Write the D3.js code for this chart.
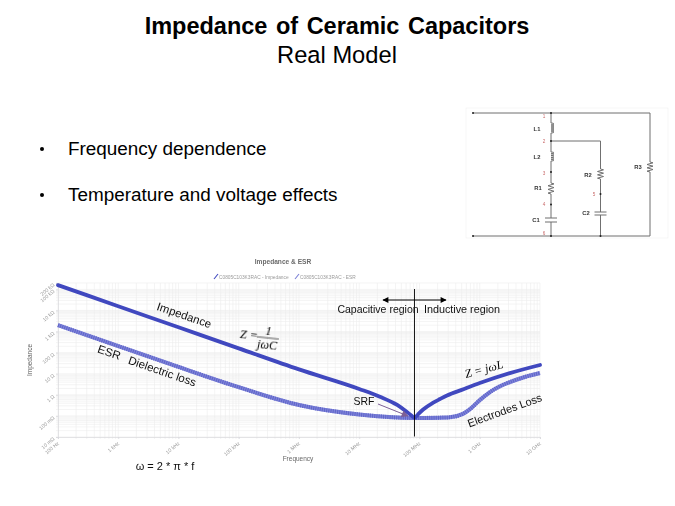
<!DOCTYPE html>
<html lang="en">
  <head>
    <meta charset="utf-8">
    <title>Impedance of Ceramic Capacitors</title>
    <script src="https://cdnjs.cloudflare.com/ajax/libs/d3/7.8.5/d3.min.js"></script>
    <style>
      html, body { margin: 0; padding: 0; background: #fff; }
      svg { display: block; }
      text { font-family: "Liberation Sans", Arial, sans-serif; }
      text.math { font-family: "Liberation Serif", serif; font-style: italic; }
    </style>
  </head>
  <body>
    <script>
      //Chart values
      var impedanceFreq = [100, 1e3, 1e4, 1e5, 1e6, 1e7, 2.2e7, 4.26e7, 6.2e7, 7.5e7, 8.26e7, 9.4e7, 1.15e8, 1.66e8, 2.19e8, 2.86e8, 5.5e8, 1e9, 3.16e9, 1e10];
      var impedanceOhm = [159000, 15900, 1590, 159, 16, 1.9, 0.81, 0.33, 0.153, 0.099, 0.08, 0.116, 0.2, 0.41, 0.63, 0.93, 1.88, 3.6, 10.7, 26];

      var esrFreq = [100, 1e3, 1e4, 1e5, 1e6, 1e7, 8.26e7, 3e8, 5.25e8, 6.9e8, 1e9, 1.48e9, 2.2e9, 3.16e9, 5.6e9, 1e10];
      var esrOhm = [2000, 205, 21, 2.3, 0.33, 0.117, 0.08, 0.085, 0.125, 0.21, 0.56, 1.35, 2.6, 4, 7, 10.8];

      var xTickValues = [100, 1e3, 1e4, 1e5, 1e6, 1e7, 1e8, 1e9, 1e10];
      var xTickLabels = ["100 Hz", "1 kHz", "10 kHz", "100 kHz", "1 MHz", "10 MHz", "100 MHz", "1 GHz", "10 GHz"];
      var yTickValues = [0.01, 0.1, 1, 10, 100, 1e3, 1e4, 1e5, 2e5];
      var yTickLabels = ["10 mΩ", "100 mΩ", "1 Ω", "10 Ω", "100 Ω", "1 kΩ", "10 kΩ", "100 kΩ", "200 kΩ"];
      var seriesNames = ["C0805C103K3RAC - Impedance", "C0805C103K3RAC - ESR"];

      var bullets = ["Frequency dependence", "Temperature and voltage effects"];

      var w = 675, h = 506;
      var svg = d3.select("body").append("svg").attr("width", w).attr("height", h);

      var defs = svg.append("defs");
      defs.append("filter").attr("id", "soft").append("feGaussianBlur").attr("stdDeviation", 0.25);
      defs.append("filter").attr("id", "softer").append("feGaussianBlur").attr("stdDeviation", 0.4);
      defs.append("marker").attr("id", "head").attr("viewBox", "0 0 10 10").attr("refX", 9).attr("refY", 5)
        .attr("markerWidth", 8).attr("markerHeight", 6).attr("markerUnits", "userSpaceOnUse").attr("orient", "auto-start-reverse")
        .append("path").attr("d", "M0,0L10,5L0,10Z").attr("fill", "#000");
      defs.append("marker").attr("id", "srfHead").attr("viewBox", "0 0 10 10").attr("refX", 9).attr("refY", 5)
        .attr("markerWidth", 9).attr("markerHeight", 7).attr("markerUnits", "userSpaceOnUse").attr("orient", "auto")
        .append("path").attr("d", "M0,0L10,5L0,10Z").attr("fill", "#7d5f96");

      //Slide title
      svg.append("text").attr("x", 337).attr("y", 34).attr("text-anchor", "middle")
        .attr("font-size", 23.5).attr("font-weight", "bold").attr("word-spacing", 2).text("Impedance of Ceramic Capacitors");
      svg.append("text").attr("x", 337).attr("y", 63).attr("text-anchor", "middle")
        .attr("font-size", 23.7).text("Real Model");

      //Bullets
      var bulletY = d3.scalePoint().domain(bullets).range([155, 201]);
      bullets.forEach(function(b) {
        svg.append("circle").attr("cx", 42).attr("cy", bulletY(b) - 6).attr("r", 2).attr("fill", "#000");
        svg.append("text").attr("x", 68).attr("y", bulletY(b)).attr("font-size", 18.9).text(b);
      });

      //Chart
      var plotLeft = 58, plotRight = 540, plotTop = 283, plotBottom = 437;
      var xScale = d3.scaleLog().domain([100, 1e10]).range([plotLeft, plotRight]);
      var yScale = d3.scaleLog().domain([0.01, 2e5]).range([plotBottom, plotTop]);

      var chart = svg.append("g");
      var grid = chart.append("g").attr("filter", "url(#soft)");

      grid.selectAll(".vminor").data(xScale.ticks()).enter().append("line")
        .attr("x1", function(d) { return xScale(d); }).attr("x2", function(d) { return xScale(d); })
        .attr("y1", plotTop).attr("y2", plotBottom + 2)
        .attr("stroke", "#ededed").attr("stroke-width", 0.6);
      grid.selectAll(".hminor").data(yScale.ticks()).enter().append("line")
        .attr("x1", plotLeft - 2).attr("x2", plotRight)
        .attr("y1", function(d) { return yScale(d); }).attr("y2", function(d) { return yScale(d); })
        .attr("stroke", "#ededed").attr("stroke-width", 0.6);

      var xAxis = d3.axisBottom(xScale).tickValues(xTickValues)
        .tickFormat(function(d, i) { return xTickLabels[i]; }).tickSize(2);
      var yAxis = d3.axisLeft(yScale).tickValues(yTickValues)
        .tickFormat(function(d, i) { return yTickLabels[i]; }).tickSize(2);

      var xG = chart.append("g").attr("transform", "translate(0," + plotBottom + ")").attr("filter", "url(#soft)").call(xAxis);
      var yG = chart.append("g").attr("transform", "translate(" + plotLeft + ",0)").attr("filter", "url(#soft)").call(yAxis);
      xG.selectAll(".domain, .tick line").attr("stroke", "#d8d8dc").attr("stroke-width", 0.7);
      yG.selectAll(".domain, .tick line").attr("stroke", "#d8d8dc").attr("stroke-width", 0.7);

      xG.selectAll("text").attr("font-size", 5.2).attr("fill", "#999")
        .attr("text-anchor", "end").attr("dy", null).attr("y", 0)
        .attr("transform", "translate(1,7) rotate(-40)");
      yG.selectAll("text").attr("font-size", 5.2).attr("fill", "#999")
        .attr("text-anchor", "end").attr("dy", null).attr("x", 0)
        .attr("transform", "translate(-3,2) rotate(-40)");

      chart.append("text").attr("x", 283).attr("y", 264).attr("text-anchor", "middle")
        .attr("font-size", 6.6).attr("font-weight", "bold").attr("fill", "#6b6b6b").attr("filter", "url(#soft)").text("Impedance & ESR");

      var legendX = d3.scaleOrdinal().domain(seriesNames).range([219, 300]);
      var seriesColors = d3.scaleOrdinal().domain(seriesNames).range(["#3f47bf", "#7a7fd6"]);
      seriesNames.forEach(function(name) {
        chart.append("path").attr("d", "M" + (legendX(name) - 5) + ",279L" + (legendX(name) - 1) + ",274")
          .attr("stroke", seriesColors(name)).attr("stroke-width", 1.1).attr("fill", "none");
        chart.append("text").attr("x", legendX(name)).attr("y", 278.5).attr("font-size", 4.8)
          .attr("fill", "#9a9a9a").attr("filter", "url(#soft)").text(name);
      });

      chart.append("text").attr("transform", "translate(32,360) rotate(-90)").attr("text-anchor", "middle")
        .attr("font-size", 6.5).attr("fill", "#666").attr("filter", "url(#soft)").text("Impedance");
      chart.append("text").attr("x", 298).attr("y", 461).attr("text-anchor", "middle")
        .attr("font-size", 6.5).attr("fill", "#666").attr("filter", "url(#soft)").text("Frequency");

      var line = d3.line()
        .x(function(d) { return xScale(d[0]); })
        .y(function(d) { return yScale(d[1]); })
        .curve(d3.curveMonotoneX);

      chart.append("path").datum(d3.zip(esrFreq, esrOhm)).attr("d", line)
        .attr("fill", "none").attr("stroke", "#7f84d9").attr("stroke-width", 4);
      chart.append("path").datum(d3.zip(esrFreq, esrOhm)).attr("d", line)
        .attr("fill", "none").attr("stroke", "#5f65c9").attr("stroke-width", 4).attr("stroke-dasharray", "1 1.2");
      chart.append("path").datum(d3.zip(impedanceFreq, impedanceOhm)).attr("d", line)
        .attr("fill", "none").attr("stroke", "#4048bf").attr("stroke-width", 3.8).attr("stroke-linecap", "round");

      //Annotations on top of the chart
      var notes = svg.append("g").attr("filter", "url(#soft)");
      var vLineX = 414.5;
      notes.append("line").attr("x1", vLineX).attr("x2", vLineX).attr("y1", 289).attr("y2", 436.5).attr("stroke", "#000").attr("stroke-width", 0.9);
      notes.append("line").attr("x1", 383).attr("x2", 446).attr("y1", 300).attr("y2", 300).attr("stroke", "#000").attr("stroke-width", 1)
        .attr("marker-start", "url(#head)").attr("marker-end", "url(#head)");
      notes.append("line").attr("x1", 378).attr("y1", 404).attr("x2", 408).attr("y2", 416).attr("stroke", "#7d5f96").attr("stroke-width", 1)
        .attr("marker-end", "url(#srfHead)");

      function note(txt, x, y, size, angle) {
        notes.append("text").attr("transform", "translate(" + x + "," + y + ") rotate(" + angle + ")")
          .attr("text-anchor", "middle").attr("font-size", size).attr("fill", "#111").text(txt);
      }
      note("Impedance", 183, 319, 11.5, 19);
      note("ESR", 108, 356, 11.5, 19);
      note("Dielectric loss", 161, 375, 11.5, 19);
      note("Capacitive region", 378, 313, 10.5, 0);
      note("Inductive region", 462, 313, 10.8, 0);
      note("SRF", 364, 405, 10.5, 0);
      note("Electrodes Loss", 506, 414, 11, -20);
      note("ω = 2 * π * f", 165, 470, 11, 0);

      //Formulas
      var zc = notes.append("g").attr("transform", "translate(240,335) rotate(6)");
      zc.append("text").attr("class", "math").attr("font-size", 12).attr("y", 3).text("Z =");
      zc.append("text").attr("class", "math").attr("font-size", 12).attr("x", 28).attr("y", -3).attr("text-anchor", "middle").text("1");
      zc.append("line").attr("x1", 17).attr("x2", 39).attr("y1", 0).attr("y2", 0).attr("stroke", "#111").attr("stroke-width", 0.7);
      zc.append("text").attr("class", "math").attr("font-size", 12).attr("x", 28).attr("y", 11).attr("text-anchor", "middle").text("jωC");
      notes.append("text").attr("class", "math").attr("font-size", 12)
        .attr("transform", "translate(466,378) rotate(-15)").text("Z = jωL");

      //Equivalent circuit
      var cx = 551, branchX = 600.5, r3X = 650, railTop = 113, railBottom = 236;
      var circuit = svg.append("g").attr("filter", "url(#softer)");
      circuit.append("rect").attr("x", 466).attr("y", 108).attr("width", 202).attr("height", 130).attr("fill", "none").attr("stroke", "#f0f0f0").attr("stroke-width", 0.6);

      function wire(d) {
        circuit.append("path").attr("d", d).attr("fill", "none").attr("stroke", "#6f6f6f").attr("stroke-width", 1);
      }
      function coil(x, y0, y1) {
        var turns = 5, step = (y1 - y0) / turns, d = "M" + x + "," + y0;
        d3.range(turns).forEach(function(i) {
          d += "A3," + (step / 2) + " 0 1 1 " + x + "," + (y0 + (i + 1) * step);
        });
        wire(d);
      }
      function resistor(x, y0, y1) {
        var zig = 6, step = (y1 - y0) / zig, d = "M" + x + "," + y0;
        d3.range(zig).forEach(function(i) {
          d += "L" + (x + (i % 2 ? -3 : 3)) + "," + (y0 + (i + 0.5) * step);
        });
        wire(d + "L" + x + "," + y1);
      }
      function capacitor(x, y0, y1) {
        wire("M" + (x - 6) + "," + y0 + "H" + (x + 6) + "M" + (x - 6) + "," + y1 + "H" + (x + 6));
      }
      function dot(x, y) {
        circuit.append("circle").attr("cx", x).attr("cy", y).attr("r", 1).attr("fill", "#222");
      }
      function label(txt, x, y, color) {
        circuit.append("text").attr("x", x).attr("y", y).attr("text-anchor", "middle")
          .attr("font-size", color ? 4.6 : 5.8).attr("font-weight", color ? "normal" : "bold").attr("fill", color || "#333").text(txt);
      }

      wire("M473," + railTop + "H" + r3X + "V162M" + r3X + ",172V" + railBottom + "H473");
      wire("M" + cx + "," + railTop + "V123M" + cx + ",133V152M" + cx + ",161V183M" + cx + ",194V218M" + cx + ",222V" + railBottom);
      wire("M" + cx + ",141H" + branchX + "V169M" + branchX + ",179V212M" + branchX + ",215V" + railBottom);
      coil(cx, 123, 133);
      coil(cx, 152, 161);
      resistor(cx, 183, 194);
      resistor(branchX, 169, 179);
      resistor(r3X, 162, 172);
      capacitor(cx, 218, 222);
      capacitor(branchX, 212, 215);
      [[473, railTop], [cx, railTop], [cx, 141], [cx, 172], [cx, 204.5], [cx, railBottom], [branchX, 194], [473, railBottom], [branchX, railBottom]]
        .forEach(function(p) { dot(p[0], p[1]); });
      label("L1", 537, 131);
      label("L2", 537, 159);
      label("R1", 538, 190);
      label("C1", 536, 222);
      label("R2", 588, 177);
      label("C2", 586, 215);
      label("R3", 638, 169);
      label("1", 544, 118, "#c96a6a");
      label("2", 544, 143, "#c96a6a");
      label("3", 544, 175, "#c96a6a");
      label("4", 544, 206, "#c96a6a");
      label("5", 594, 196, "#c96a6a");
      label("6", 544, 235, "#c96a6a");
    </script>
  </body>
</html>
